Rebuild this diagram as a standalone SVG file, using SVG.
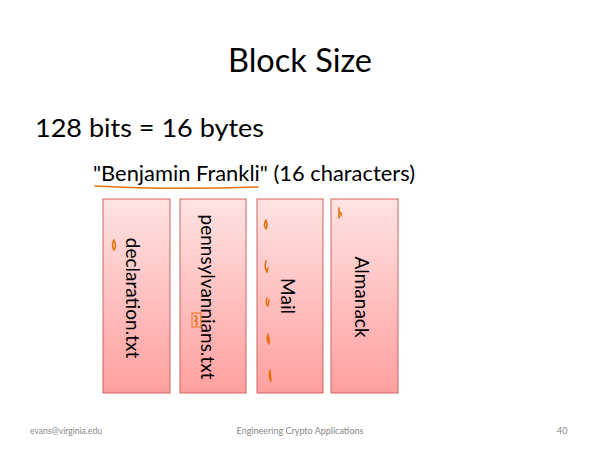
<svg xmlns="http://www.w3.org/2000/svg" width="600" height="450" viewBox="0 0 600 450">
<defs>
<linearGradient id="g" x1="0" y1="0" x2="0" y2="1">
<stop offset="0" stop-color="#FFE3E3"/>
<stop offset="1" stop-color="#FF9F9F"/>
</linearGradient>
<style>
.box{fill:url(#g);stroke:#D06565;stroke-width:1}
.t{font-family:Lato,"Open Sans",sans-serif;fill:#000}
.v{font-family:Lato,"Open Sans",sans-serif;font-size:19px;text-anchor:middle;fill:#000}
.f{font-family:Lato,"Open Sans",sans-serif;font-size:9px;fill:#888}
.ink{fill:none;stroke:#E8700F;stroke-width:1.6;stroke-linecap:round;stroke-linejoin:round}
</style>
</defs>
<rect width="600" height="450" fill="#fff"/>
<text class="t" x="228" y="72" font-size="32" textLength="144" lengthAdjust="spacingAndGlyphs">Block Size</text>
<text class="t" x="35" y="137" font-size="25" textLength="229" lengthAdjust="spacingAndGlyphs">128 bits = 16 bytes</text>
<text class="t" x="93" y="181" font-size="21" textLength="322" lengthAdjust="spacingAndGlyphs">"Benjamin Frankli" (16 characters)</text>
<path class="ink" d="M95 186 Q170 190 258 187" stroke-width="1.3"/>
<g id="declaration">
<rect class="box" x="103" y="199" width="67" height="194"/>
<text class="v" transform="translate(133,298) rotate(90)" dy="0.35em">declaration.txt</text>
<path class="ink" d="M114 240 Q111 245 114 250 Q117 246 114 241"/>
</g>
<g id="pennsylvannians">
<rect class="box" x="180" y="199" width="66" height="194"/>
<text class="v" transform="translate(208,297) rotate(90)" dy="0.35em">pennsylvannians.txt</text>
<rect x="192" y="313" width="9" height="14" fill="none" stroke="#E8700F" stroke-width="1"/>
<path class="ink" d="M195 316 Q199 318 195 321 Q199 323 196 325"/>
</g>
<g id="mail">
<rect class="box" x="257" y="199" width="66" height="194"/>
<text class="v" transform="translate(288,296) rotate(90)" dy="0.35em">Mail</text>
<path class="ink" d="M266 220 Q263 225 266 229 Q268 225 266 221"/>
<path class="ink" d="M266 261 Q264 267 267 272 L268 268"/>
<path class="ink" d="M267 298 Q265 303 268 306 L269 300"/>
<path class="ink" d="M268 334 Q266 340 269 344 Q270 339 268 336"/>
<path class="ink" d="M270 370 Q268 376 271 381 L270 372"/>
</g>
<g id="almanack">
<rect class="box" x="331" y="199" width="67" height="194"/>
<text class="v" transform="translate(362,297) rotate(90)" dy="0.35em">Almanack</text>
<path class="ink" d="M339 208 L339 218 M339 212 Q342 212 341 216"/>
</g>
<text class="f" x="30" y="434" textLength="72" lengthAdjust="spacingAndGlyphs">evans@virginia.edu</text>
<text class="f" x="300" y="434" text-anchor="middle">Engineering Crypto Applications</text>
<text class="f" x="557" y="434">40</text>
</svg>
